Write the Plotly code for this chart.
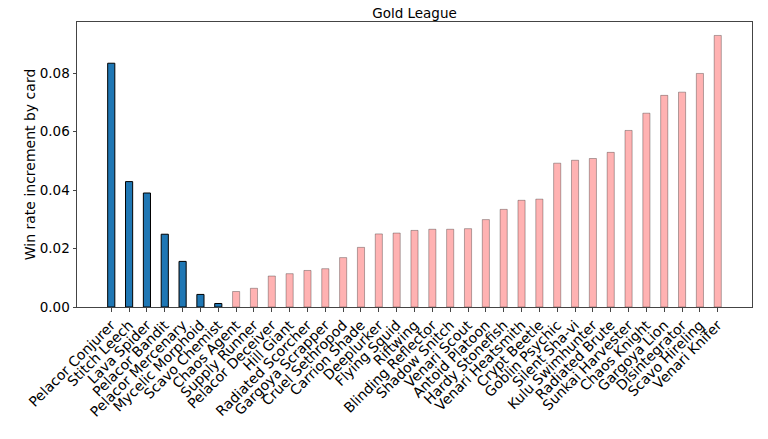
import plotly.graph_objects as go

cards = ["Pelacor Conjurer", "Stitch Leech", "Lava Spider", "Pelacor Bandit", "Pelacor Mercenary",
         "Mycelic Morphoid", "Scavo Chemist", "Chaos Agent", "Supply Runner", "Pelacor Deceiver",
         "Hill Giant", "Radiated Scorcher", "Gargoya Scrapper", "Cruel Sethropod", "Carrion Shade",
         "Deeplurker", "Flying Squid", "Riftwing", "Blinding Reflector", "Shadow Snitch",
         "Venari Scout", "Antoid Platoon", "Hardy Stonefish", "Venari Heatsmith", "Crypt Beetle",
         "Goblin Psychic", "Silent Sha-vi", "Kulu Swimhunter", "Radiated Brute", "Sunkai Harvester",
         "Chaos Knight", "Gargoya Lion", "Disintegrator", "Scavo Hireling", "Venari Knifer"]
values = [0.0834, 0.0429, 0.0390, 0.0249, 0.0156, 0.0043, 0.0012, 0.0053, 0.0064, 0.0106,
          0.0114, 0.0125, 0.0131, 0.0169, 0.0204, 0.0250, 0.0253, 0.0262, 0.0266, 0.0266,
          0.0268, 0.0299, 0.0334, 0.0365, 0.0369, 0.0492, 0.0502, 0.0508, 0.0529, 0.0604,
          0.0663, 0.0724, 0.0735, 0.0799, 0.0929]
n_top = 7  # first group (blue)
y_ticks = [0, 0.02, 0.04, 0.06, 0.08]

x_all = list(range(len(cards)))
fig = go.Figure()
fig.add_trace(go.Bar(x=x_all[:n_top], y=values[:n_top], width=0.4,
                     marker=dict(color="#1f77b4", line=dict(color="black", width=1))))
fig.add_trace(go.Bar(x=x_all[n_top:], y=values[n_top:], width=0.4,
                     marker=dict(color="#FFB2B2", line=dict(color="rgba(0,0,0,0.3)", width=1))))

font = "DejaVu Sans"
W, H = 760, 431  # page body has an 8px margin
fig.update_layout(
    width=W, height=H,
    margin=dict(l=69, r=16, t=14, b=132),
    plot_bgcolor="white", paper_bgcolor="white",
    showlegend=False,
    barmode="overlay",
    font=dict(family=font, color="black", size=14),
    title=dict(text="Gold League", x=0.5, xref="paper", xanchor="center",
               y=1, yref="container", yanchor="top", pad=dict(t=1, b=0),
               font=dict(size=13.5, family=font)),
)
fig.update_xaxes(range=[-1.92, len(cards) - 1 + 1.92], tickmode="array", tickvals=x_all,
                 ticktext=cards, tickangle=-45, showgrid=False, zeroline=False, automargin=False,
                 showline=True, linecolor="#444", linewidth=1, mirror=True,
                 ticks="outside", ticklen=3.5, tickcolor="#444", tickfont=dict(size=14))
fig.update_yaxes(range=[0, 0.0975], tickvals=y_ticks, tickformat=".2f",
                 showgrid=False, zeroline=False, automargin=False,
                 showline=True, linecolor="#444", linewidth=1, mirror=True,
                 ticks="outside", ticklen=3.5, tickcolor="#444", tickfont=dict(size=13.5),
                 title=dict(text="Win rate increment by card", font=dict(size=14), standoff=0))
fig.write_html("out.html")
